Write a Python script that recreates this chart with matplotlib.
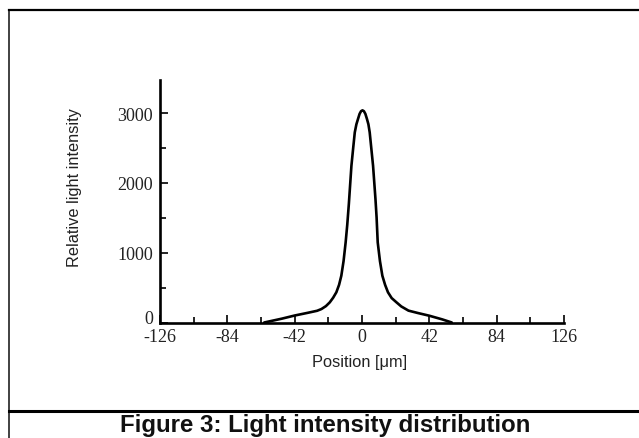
import matplotlib
matplotlib.use("Agg")
import matplotlib.pyplot as plt
from matplotlib.lines import Line2D
from matplotlib.ticker import MultipleLocator
from matplotlib.transforms import ScaledTranslation

plt.rcParams["axes.unicode_minus"] = False

# position [um] and relative intensity
position = [-61, -50, -42, -34, -28, -25.3, -22.5, -20.1, -18, -16, -14.3, -12.9, -11.5,
            -10.2, -9.2, -8.2, -6.6, -5.5, -4.5, -3.5, -2.5, -1.5, -0.6, 0.3, 1.2, 2.1,
            3.1, 4.0, 4.8, 6.9, 8.4, 9.1, 9.8, 11.2, 12.7, 14.4, 16.2, 18.5, 21.5, 24.5,
            29, 35, 42, 50, 56]
intensity = [0, 55, 100, 138, 168, 193, 235, 289, 355, 433, 540, 670, 880,
             1149, 1400, 1700, 2246, 2500, 2725, 2840, 2916, 2990, 3028, 3040, 3028, 2990,
             2916, 2840, 2725, 2246, 1769, 1507, 1149, 880, 670, 540, 433, 350, 289, 230,
             170, 135, 97, 45, 0]

x_ticks = [-126, -84, -42, 0, 42, 84, 126]
y_ticks = [0, 1000, 2000, 3000]

serif = ["Liberation Serif", "DejaVu Serif"]
narrow = ["Liberation Sans Narrow", "Liberation Sans", "DejaVu Sans"]

fig = plt.figure(figsize=(6.39, 4.39), dpi=100)
ax = fig.add_axes([160 / 639, 115.5 / 439, 404 / 639, 242.5 / 439])

ax.plot(position, intensity, color="black", lw=1.9, solid_joinstyle="round",
        solid_capstyle="round")

ax.set_xlim(-126, 126)
ax.set_ylim(0, 3475)
ax.set_xticks(x_ticks)
ax.set_yticks(y_ticks)
ax.xaxis.set_minor_locator(MultipleLocator(21))
ax.yaxis.set_minor_locator(MultipleLocator(500))
ax.tick_params(which="both", direction="in", width=1.2, colors="black")
ax.tick_params(which="major", length=6)
ax.tick_params(which="minor", length=4.5)
ax.tick_params(axis="x", pad=4)
ax.tick_params(axis="y", pad=5)
for lab in ax.get_xticklabels() + ax.get_yticklabels():
    lab.set_fontfamily(serif)
    lab.set_fontsize(13)
    lab.set_color("#222222")
# the "0" on the y axis sits a little above the axis line
zero = ax.get_yticklabels()[0]
zero.set_transform(zero.get_transform() + ScaledTranslation(0, 4 / 72, fig.dpi_scale_trans))

for s in ["top", "right"]:
    ax.spines[s].set_visible(False)
for s in ["left", "bottom"]:
    ax.spines[s].set_linewidth(1.9)

fig.text(74 / 639, 1 - 188 / 439, "Relative light intensity", rotation=90,
         ha="center", va="center", fontsize=11.8, family=narrow, color="#222222")
fig.text(360 / 639, 1 - 363 / 439, "Position [\u03bcm]", ha="center", va="center",
         fontsize=11.8, family=narrow, color="#222222")

# frame and caption
fig.add_artist(Line2D([9 / 639, 9 / 639], [0, 1 - 11 / 439], transform=fig.transFigure,
                      color="#333333", lw=1.3))
fig.add_artist(Line2D([9 / 639, 1], [1 - 11 / 439, 1 - 11 / 439], transform=fig.transFigure,
                      color="black", lw=1.6))
fig.add_artist(Line2D([9 / 639, 1], [1 - 411.7 / 439, 1 - 411.7 / 439], transform=fig.transFigure,
                      color="black", lw=2.2))
fig.text(325 / 639, 1 - 425.5 / 439, "Figure 3: Light intensity distribution", ha="center",
         va="center", fontsize=17.3, fontweight="bold", family=["Liberation Sans", "DejaVu Sans"],
         color="#111111")

fig.savefig("out.png", dpi=100)
